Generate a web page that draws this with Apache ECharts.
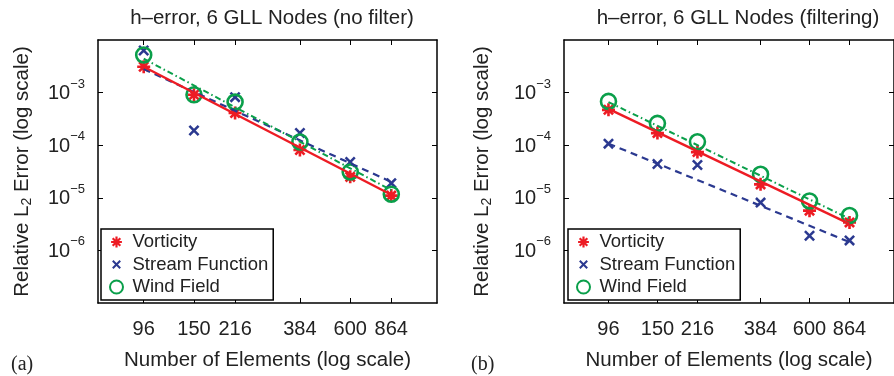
<!DOCTYPE html>
<html>
<head>
<meta charset="utf-8">
<script src="https://cdn.jsdelivr.net/npm/echarts@6/dist/echarts.min.js"></script>
<style>
  html, body { margin: 0; padding: 0; background: #fff; }
  #chart { width: 894px; height: 376px; }
</style>
</head>
<body>
<div id="chart"></div>
<script>
// Number of elements (x ticks)
const elements = [96, 150, 216, 384, 600, 864];
const fitEnds = [96, 864];
const yTicks = [1e-3, 1e-4, 1e-5, 1e-6];

// (a) no filter
const vortA = [3.1e-3, 9.1e-4, 4.1e-4, 8.1e-5, 2.5e-5, 1.1e-5];
const streamA = [6.3e-3, 1.9e-4, 8.2e-4, 1.7e-4, 4.8e-5, 1.9e-5];
const windA = [5.2e-3, 9.1e-4, 6.6e-4, 1.15e-4, 3.1e-5, 1.17e-5];
const vortFitA = [3.1e-3, 1.14e-5];
const streamFitA = [2.8e-3, 2.0e-5];
const windFitA = [4.4e-3, 1.4e-5];

// (b) filtering
const vortB = [4.7e-4, 1.7e-4, 7.4e-5, 1.8e-5, 5.7e-6, 3.4e-6];
const streamB = [1.07e-4, 4.4e-5, 4.2e-5, 8.1e-6, 1.9e-6, 1.55e-6];
const windB = [6.8e-4, 2.6e-4, 1.16e-4, 2.8e-5, 8.7e-6, 4.6e-6];
const vortFitB = [4.9e-4, 3.2e-6];
const streamFitB = [1.07e-4, 1.44e-6];
const windFitB = [6.6e-4, 4.0e-6];

const RED = '#ed1c24';
const BLUE = '#2b3990';
const GREEN = '#0a9f4a';
const FONT = 'Liberation Sans';

// marker shapes (20x20 box)
const asteriskShape = 'M0 8L20 8L20 12L0 12Z M8 0L12 0L12 20L8 20Z ' +
    'M4.34 1.52L18.48 15.66L15.66 18.48L1.52 4.34Z M15.66 1.52L18.48 4.34L4.34 18.48L1.52 15.66Z';
const crossShape = 'M3.56 0.44L19.56 16.44L16.44 19.56L0.44 3.56Z M16.44 0.44L19.56 3.56L3.56 19.56L0.44 16.44Z';
const asterisk = 'path://' + asteriskShape;
const cross = 'path://' + crossShape;
// legend icons: same shapes with empty margin so they draw a bit smaller
const asteriskIcon = 'path://M-2 -2Z M22 22Z ' + asteriskShape;
const crossIcon = 'path://M-4 -4Z M24 24Z ' + crossShape;

const pairs = (xs, ys) => xs.map((x, i) => [x, ys[i]]);

const chart = echarts.init(document.getElementById('chart'), null, { renderer: 'canvas' });

const grids = [
    { left: 98, top: 40, width: 339, height: 263 },
    { left: 564, top: 40, width: 338, height: 263 }
];

const axisLine = { show: true, onZero: false, lineStyle: { color: '#000', width: 1.5 } };

function xAxes(gridIndex) {
    const base = {
        type: 'log', logBase: 10, min: 64, max: 1296, gridIndex,
        axisLine, splitLine: { show: false }, minorTick: { show: false }
    };
    return [
        Object.assign({}, base, {
            position: 'bottom',
            name: 'Number of Elements (log scale)',
            nameLocation: 'middle',
            nameGap: 47,
            nameTextStyle: { fontFamily: FONT, fontSize: 20.5, color: '#222' },
            axisTick: { inside: true, length: 5, customValues: elements, lineStyle: { color: '#000' } },
            axisLabel: { customValues: elements, margin: 16, fontFamily: FONT, fontSize: 20, color: '#222' }
        }),
        Object.assign({}, base, {
            position: 'top',
            axisTick: { inside: true, length: 5, customValues: elements, lineStyle: { color: '#000' } },
            axisLabel: { show: false }
        })
    ];
}

function yAxes(gridIndex, gap) {
    const base = {
        type: 'log', logBase: 10, min: 1e-7, max: 1e-2, gridIndex,
        axisLine, splitLine: { show: false }, minorTick: { show: false }
    };
    return [
        Object.assign({}, base, {
            position: 'left',
            name: 'Relative L{sub|2} Error (log scale)',
            nameLocation: 'middle',
            nameRotate: 90,
            nameGap: gap,
            nameTextStyle: {
                fontFamily: FONT, fontSize: 20.5, color: '#222',
                rich: { sub: { fontFamily: FONT, fontSize: 14, color: '#222', verticalAlign: 'bottom', padding: [10, 0, 0, 0] } }
            },
            axisTick: { inside: true, length: 5, customValues: yTicks, lineStyle: { color: '#000' } },
            axisLabel: {
                customValues: yTicks,
                margin: 13,
                formatter: (v) => '{b|10}{s|\u2212' + Math.round(-Math.log10(v)) + '}',
                rich: {
                    b: { fontFamily: FONT, fontSize: 20, color: '#222', padding: [6, 0, 4, 0] },
                    s: { fontFamily: FONT, fontSize: 13, color: '#222', verticalAlign: 'top' }
                }
            }
        }),
        Object.assign({}, base, {
            position: 'right',
            axisTick: { inside: true, length: 5, customValues: yTicks, lineStyle: { color: '#000' } },
            axisLabel: { show: false }
        })
    ];
}

function panelSeries(xi, yi, vort, stream, wind, vFit, sFit, wFit) {
    return [
        {
            name: 'Stream fit', type: 'line', xAxisIndex: xi, yAxisIndex: yi, data: pairs(fitEnds, sFit),
            showSymbol: false, silent: true, lineStyle: { color: BLUE, width: 2.2, type: [7, 5] }
        },
        {
            name: 'Vorticity fit', type: 'line', xAxisIndex: xi, yAxisIndex: yi, data: pairs(fitEnds, vFit),
            showSymbol: false, silent: true, lineStyle: { color: RED, width: 2.4 }
        },
        {
            name: 'Wind fit', type: 'line', xAxisIndex: xi, yAxisIndex: yi, data: pairs(fitEnds, wFit),
            showSymbol: false, silent: true, lineStyle: { color: GREEN, width: 2, type: [6, 3, 1.5, 3] }
        },
        {
            name: 'Stream Function', type: 'scatter', xAxisIndex: xi, yAxisIndex: yi, data: pairs(elements, stream),
            symbol: cross, symbolSize: 11, itemStyle: { color: BLUE, opacity: 1 }
        },
        {
            name: 'Vorticity', type: 'scatter', xAxisIndex: xi, yAxisIndex: yi, data: pairs(elements, vort),
            symbol: asterisk, symbolSize: 13, itemStyle: { color: RED, opacity: 1 }
        },
        {
            name: 'Wind Field', type: 'scatter', xAxisIndex: xi, yAxisIndex: yi, data: pairs(elements, wind),
            symbol: 'circle', symbolSize: 15,
            itemStyle: { color: 'rgba(0,0,0,0)', borderColor: GREEN, borderWidth: 2.6, opacity: 1 }
        }
    ];
}

function legendAt(left) {
    return {
        data: [
            { name: 'Vorticity', icon: asteriskIcon },
            { name: 'Stream Function', icon: crossIcon },
            { name: 'Wind Field', icon: 'circle' }
        ],
        orient: 'vertical',
        left, top: 229,
        padding: [3, 5, 3, 8],
        itemGap: 2.5,
        itemWidth: 22,
        itemHeight: 13,
        borderColor: '#000',
        borderWidth: 1.5,
        borderRadius: 0,
        backgroundColor: '#fff',
        selectedMode: false,
        textStyle: { fontFamily: FONT, fontSize: 18.5, color: '#222', lineHeight: 20 }
    };
}

const titleStyle = { fontFamily: FONT, fontSize: 20.5, fontWeight: 'normal', color: '#222' };
const tagStyle = { fontFamily: 'Liberation Serif', fontSize: 20, fontWeight: 'normal', color: '#222' };

const option = {
    animation: false,
    backgroundColor: '#fff',
    title: [
        { text: 'h\u2013error, 6 GLL Nodes (no filter)', left: 267, top: 3, textAlign: 'center', textStyle: titleStyle },
        { text: 'h\u2013error, 6 GLL Nodes (filtering)', left: 733, top: 3, textAlign: 'center', textStyle: titleStyle },
        { text: '(a)', left: 6, top: 350, textStyle: tagStyle },
        { text: '(b)', left: 466, top: 350, textStyle: tagStyle }
    ],
    legend: [legendAt(101), legendAt(568)],
    grid: grids,
    xAxis: [...xAxes(0), ...xAxes(1)],
    yAxis: [...yAxes(0, 64), ...yAxes(1, 70)],
    series: [
        ...panelSeries(0, 0, vortA, streamA, windA, vortFitA, streamFitA, windFitA),
        ...panelSeries(2, 2, vortB, streamB, windB, vortFitB, streamFitB, windFitB)
    ]
};

chart.setOption(option);
</script>
</body>
</html>
